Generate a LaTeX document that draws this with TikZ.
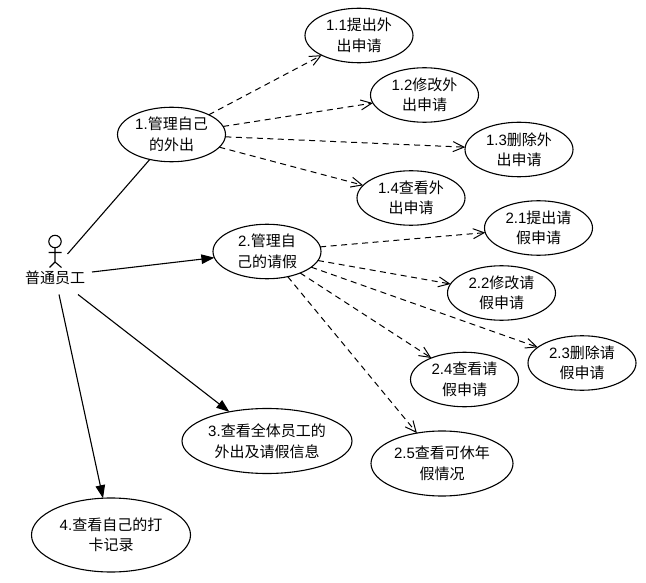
\documentclass[tikz,border=0pt]{standalone}
\usepackage{fontspec}
\setmainfont{Noto Sans CJK SC}
\newfontfamily\lat{Liberation Sans}
\usetikzlibrary{shapes.geometric,arrows.meta}
\tikzset{
  uc/.style={ellipse,draw,line width=1.1pt,inner sep=0pt,outer sep=0pt,minimum width=108pt,minimum height=54.5pt,align=center,font=\fontsize{15pt}{20.5pt}\selectfont},
  include/.style={draw,line width=1pt,dash pattern=on 6pt off 4.5pt,-{Straight Barb[length=11pt,width=10pt,line width=1pt]}},
  assoc/.style={draw,line width=1.1pt},
  assocarrow/.style={assoc,-{Triangle[length=13pt,width=9.5pt]}},
  actorline/.style={draw,line width=1.1pt},
  actorlabel/.style={inner sep=0pt,font=\fontsize{15pt}{18pt}\selectfont}
}
\begin{document}
\begin{tikzpicture}[x=1pt,y=-1pt]
\useasboundingbox[fill=white] (0,0) rectangle (646,583);
% actor
\draw[actorline] (55,241.5) circle (6.2pt);
\draw[actorline] (55,247.7) -- (55,262) -- (49.5,267.5) (55,262) -- (61.5,267.5) (48.5,252.5) -- (61.5,252.5);
\node[actorlabel] (actor) at (55,278) {普通员工};
\coordinate (a1) at (67.5,254);
\coordinate (a2) at (92,272);
\coordinate (a3) at (78,294.5);
\coordinate (a4) at (59,294.5);
% use cases
\node[uc] (u1) at (171.5,134.5) {{\lat 1.}管理自己\\的外出};
\node[uc] (u11) at (359,35.5) {{\lat 1.1}提出外\\出申请};
\node[uc] (u12) at (424.5,95) {{\lat 1.2}修改外\\出申请};
\node[uc] (u13) at (519,149.5) {{\lat 1.3}删除外\\出申请};
\node[uc] (u14) at (411,198) {{\lat 1.4}查看外\\出申请};
\node[uc] (u2) at (267,251.5) {{\lat 2.}管理自\\己的请假};
\node[uc] (u21) at (538.5,228) {{\lat 2.1}提出请\\假申请};
\node[uc] (u22) at (501.5,293) {{\lat 2.2}修改请\\假申请};
\node[uc] (u23) at (582,363) {{\lat 2.3}删除请\\假申请};
\node[uc] (u24) at (464.5,379.5) {{\lat 2.4}查看请\\假申请};
\node[uc,minimum width=142pt,minimum height=65pt] (u25) at (442,463.5) {{\lat 2.5}查看可休年\\假情况};
\node[uc,minimum width=170pt,minimum height=65pt] (u3) at (267,441) {{\lat 3.}查看全体员工的\\外出及请假信息};
\node[uc,minimum width=159pt,minimum height=74pt] (u4) at (111,535) {{\lat 4.}查看自己的打\\卡记录};
% connectors
\draw[assoc] (a1) -- (u1);
\draw[assocarrow] (a2) -- (u2);
\draw[assocarrow] (a3) -- (u3);
\draw[assocarrow] (a4) -- (u4);
\foreach \s/\t in {u1/u11,u1/u12,u1/u13,u1/u14,u2/u21,u2/u22,u2/u23,u2/u24,u2/u25}
  \draw[include] (\s) -- (\t);
\end{tikzpicture}
\end{document}
